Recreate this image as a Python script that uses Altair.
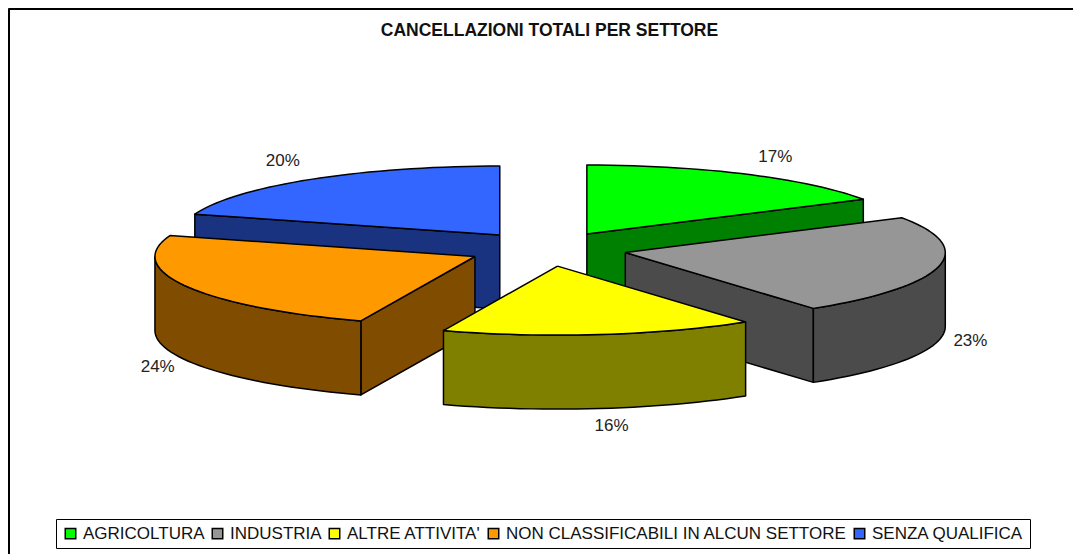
import math
import altair as alt
import pandas as pd

TITLE = "CANCELLAZIONI TOTALI PER SETTORE"
CATEGORIES = ["AGRICOLTURA", "INDUSTRIA", "ALTRE ATTIVITA'",
              "NON CLASSIFICABILI IN ALCUN SETTORE", "SENZA QUALIFICA"]
PERCENT = [16.6, 23.4, 15.8, 24.1, 20.1]
TOP_COLORS = ["#00FF00", "#969696", "#FFFF00", "#FF9900", "#3366FF"]
WALL_COLORS = ["#008000", "#4B4B4B", "#808000", "#804C00", "#1A3380"]
DRAW_ORDER = [4, 0, 3, 1, 2]
# label nudges in px from the computed rim anchor
LABEL_NUDGE = [(29, -17), (32, 0), (12, 17), (-29, 7), (-28, -18)]

CX, CY, RX, RY, DEPTH, EXPLODE = 547, 249, 320, 69, 74, 0.25
X_DOMAIN = [8, 1073]
Y_DOMAIN = [554, 8]
W, H = X_DOMAIN[1] - X_DOMAIN[0], Y_DOMAIN[0] - Y_DOMAIN[1]

x_plain = alt.Scale(domain=X_DOMAIN, nice=False, zero=False)
y_plain = alt.Scale(domain=Y_DOMAIN, nice=False, zero=False)
frame = dict(grid=False, ticks=False, labels=False, title=None,
             domainColor="black", domainWidth=3)


def enc():
    return dict(
        x=alt.X("x:Q", scale=x_plain, axis=alt.Axis(orient="top", **frame)),
        y=alt.Y("y:Q", scale=y_plain, axis=alt.Axis(orient="left", **frame)),
    )


def polygon(points, color):
    pts = list(points) + [points[0]]
    df = pd.DataFrame({"x": [p[0] for p in pts], "y": [p[1] for p in pts],
                       "seq": list(range(len(pts)))})
    return alt.Chart(df).mark_line(fill=color, stroke="black", strokeWidth=1.5,
                                   strokeJoin="round").encode(order="seq:Q", **enc())


def rim(ax, ay, deg):
    t = math.radians(deg)
    return ax + RX * math.sin(t), ay - RY * math.cos(t)


def arc(ax, ay, a, b):
    n = max(2, int((b - a) / 2))
    return [rim(ax, ay, a + (b - a) * i / n) for i in range(n + 1)]


total = sum(PERCENT)
start = 0.0
slices = []
for i, p in enumerate(PERCENT):
    end = start + 360.0 * p / total
    mid = math.radians((start + end) / 2)
    apex = (CX + EXPLODE * RX * math.sin(mid), CY - EXPLODE * RY * math.cos(mid))
    slices.append((i, start, end, apex))
    start = end

layers = []
# carrier of the legend, hidden (size 0) under the slices
legend_df = pd.DataFrame({"x": [s[3][0] for s in slices], "y": [s[3][1] for s in slices],
                          "cat": CATEGORIES})
legend = alt.Legend(
    orient="none", legendX=48, legendY=511, direction="horizontal", columns=5, title=None,
    symbolType="square", symbolSize=110, symbolStrokeColor="black", symbolStrokeWidth=1.5,
    symbolOpacity=1, labelFont="Liberation Sans", labelFontSize=17, labelColor="#111111",
    labelLimit=0, strokeColor="black", fillColor="white", padding=6, columnPadding=4,
    labelOffset=4,
)
layers.append(alt.Chart(legend_df).mark_square(size=0, opacity=1).encode(
    fill=alt.Fill("cat:N", scale=alt.Scale(domain=CATEGORIES, range=TOP_COLORS), legend=legend),
    **enc()))

for i in DRAW_ORDER:
    _, a, b, (ax, ay) = slices[i]
    wall = WALL_COLORS[i]
    if math.sin(math.radians(a)) < -1e-6:
        p = rim(ax, ay, a)
        layers.append(polygon([(ax, ay), p, (p[0], p[1] + DEPTH), (ax, ay + DEPTH)], wall))
    if math.sin(math.radians(b)) > 1e-6:
        p = rim(ax, ay, b)
        layers.append(polygon([(ax, ay), p, (p[0], p[1] + DEPTH), (ax, ay + DEPTH)], wall))
    va, vb = max(a, 90), min(b, 270)
    if vb > va:
        top_edge = arc(ax, ay, va, vb)
        bottom = [(x, y + DEPTH) for x, y in reversed(top_edge)]
        layers.append(polygon(top_edge + bottom, wall))
    layers.append(polygon([(ax, ay)] + arc(ax, ay, a, b), TOP_COLORS[i]))

for i, a, b, (ax, ay) in slices:
    mid = (a + b) / 2
    x, y = rim(ax, ay, mid)
    if math.cos(math.radians(mid)) < 0:
        y += DEPTH
    dx, dy = LABEL_NUDGE[i]
    df = pd.DataFrame({"x": [x], "y": [y], "t": [f"{round(PERCENT[i])}%"]})
    layers.append(alt.Chart(df).mark_text(
        font="Liberation Sans", fontSize=17, color="#222222", dx=dx, dy=dy,
        align="center", baseline="middle").encode(text="t:N", **enc()))

chart = alt.layer(*layers).properties(
    width=W, height=H, padding=0, autosize=alt.AutoSizeParams(type="none"),
    title=alt.TitleParams(TITLE, font="Liberation Sans", fontSize=17.5, fontWeight="bold",
                          color="#111111", anchor="middle", dx=9, dy=35),
).configure_view(stroke=None)

chart.save("out.html", embed_options={"renderer": "svg", "actions": False})
